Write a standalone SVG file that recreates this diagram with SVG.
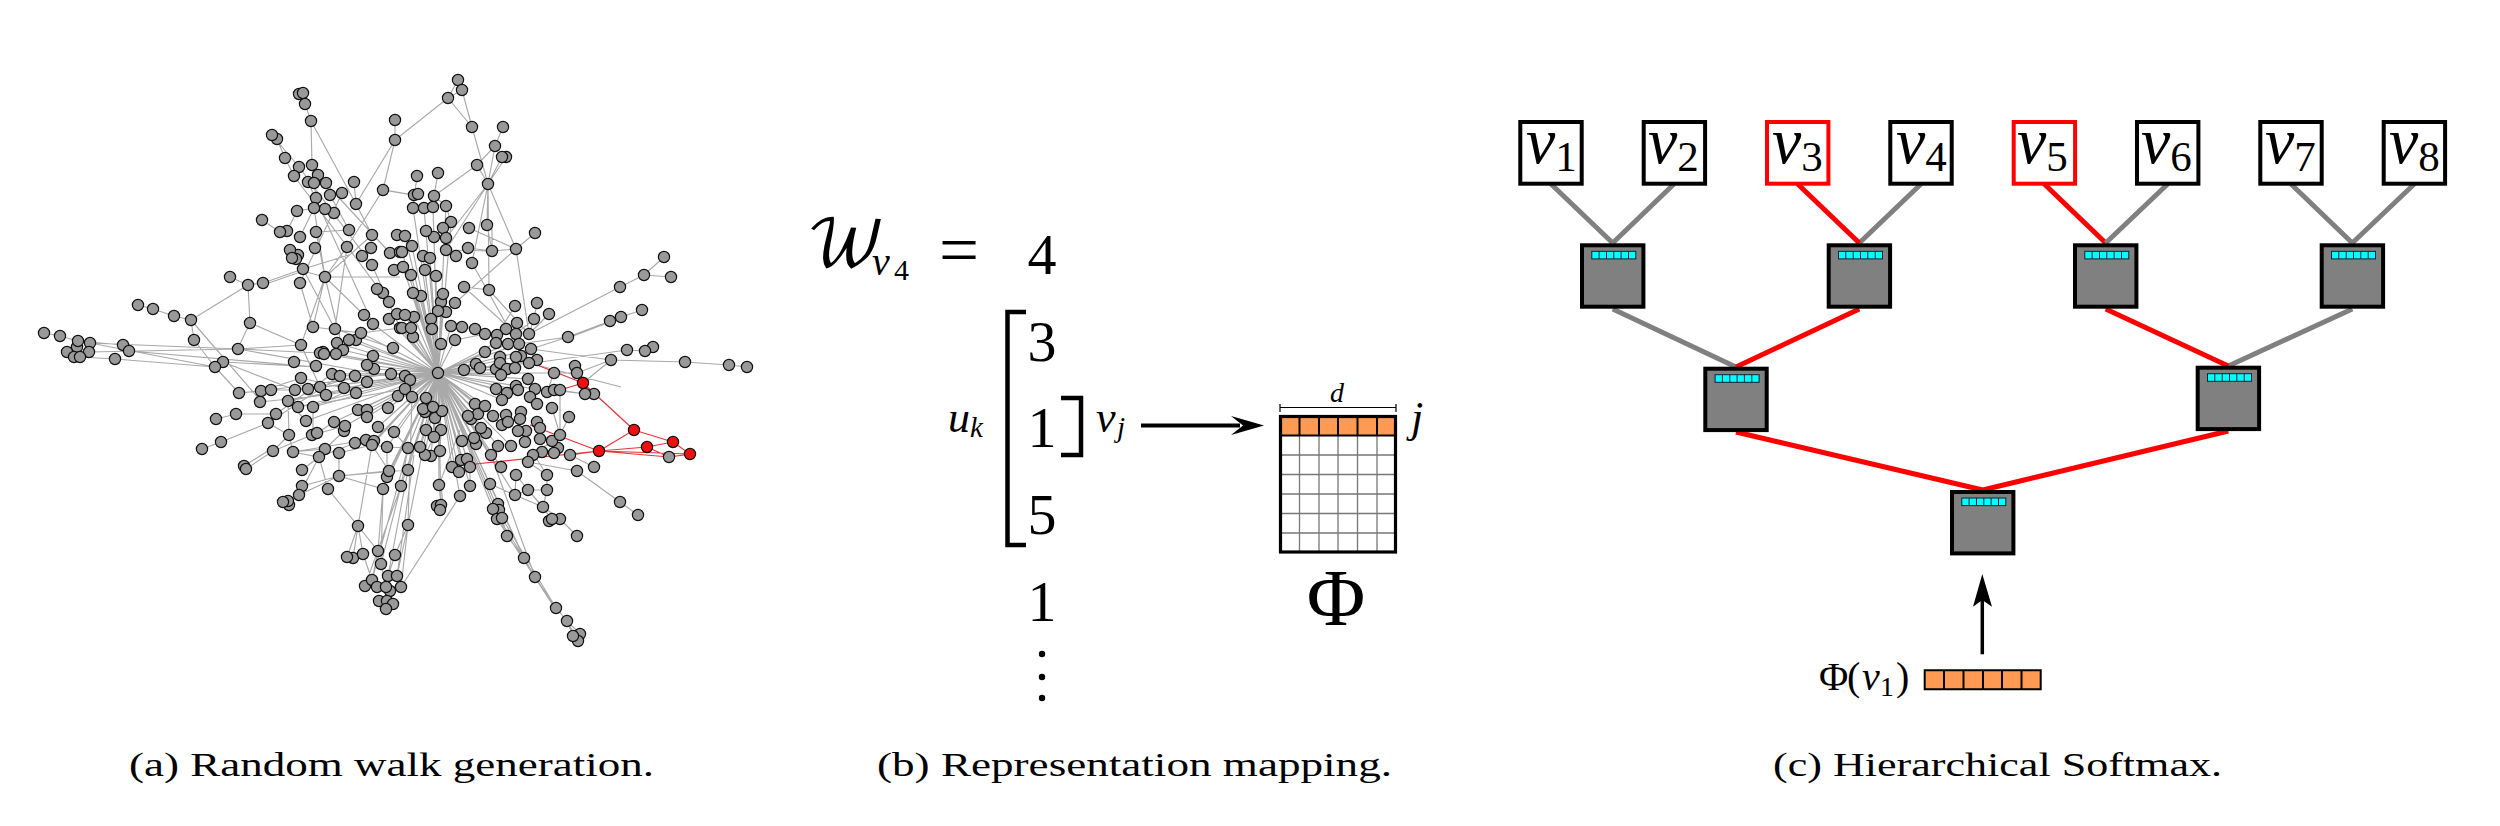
<svg xmlns="http://www.w3.org/2000/svg" width="2500" height="826" viewBox="0 0 2500 826">
<style>
text{font-family:"Liberation Serif","DejaVu Serif",serif;fill:#000}
.i{font-style:italic}
.cap{font-size:33px}
.d{font-size:58px;text-anchor:middle}
.e{fill:none;stroke:#a9a9a9;stroke-width:1.15}
.re{fill:none;stroke:#e8343a;stroke-width:1.2}
#net circle{r:5.6px;fill:#999;stroke:#111;stroke-width:1.2}
#net .r circle{fill:#f01010}
.t{stroke-width:5;fill:none}
.gy{stroke:#808080}
.rd{stroke:#f00}
.leaf{fill:#fff;stroke:#000;stroke-width:4}
.leaf.red{stroke:#f00}
.lab{font-size:66px;font-style:italic}
.sub{font-size:43px;font-style:normal}
.grid{stroke:#777;stroke-width:1.3;fill:none}
.or{fill:#ff9a55}
.blk{fill:none;stroke:#000}
</style>
<defs>
<g id="inner"><rect x="2" y="2" width="61.4" height="61.4" fill="#808080" stroke="#000" stroke-width="4"/><rect x="11.8" y="8" width="44" height="7.6" fill="#0ff" stroke="#123" stroke-width="1"/><path d="M19.1 8V15.6M26.5 8V15.6M33.8 8V15.6M41.1 8V15.6M48.5 8V15.6" stroke="#123" stroke-width="1"/></g>
</defs>
<g id="connectors">
<path id="hub-edges" class="e" d="M438 373L426 398L438 373L423 409L438 373L433 407L438 373L442 411L438 373L435 418L438 373L425 412L438 373L412 397L438 373L405 389L438 373L398 396L438 373L388 408L438 373L358 410L438 373L367 410L438 373L367 417L438 373L344 388L438 373L356 393L438 373L334 422L438 373L345 426L438 373L313 407L438 373L306 421L438 373L378 427L438 373L394 432L438 373L408 448L438 373L420 447L438 373L425 455L438 373L431 456L438 373L440 451L438 373L408 470L438 373L452 467L438 373L459 472L438 373L461 460L438 373L467 459L438 373L470 467L438 373L491 455L438 373L498 446L438 373L511 446L438 373L501 467L438 373L490 484L438 373L515 495L438 373L389 471L438 373L387 477L438 373L387 447L438 373L372 445L438 373L374 441L438 373L408 525L438 373L439 485L438 373L441 505L438 373L470 486L438 373L460 496L438 373L493 509L438 373L497 519L438 373L502 518L438 373L507 536L438 373L524 558L438 373L401 486L438 373L383 489L438 373L413 208L438 373L424 208L438 373L433 207L438 373L446 206L438 373L451 222L438 373L434 237L438 373L405 236L438 373L412 246L438 373L402 252L438 373L423 256L438 373L430 258L438 373L403 267L438 373L425 270L438 373L411 275L438 373L436 276L438 373L413 293L438 373L421 296L438 373L443 294L438 373L441 302L438 373L405 315L438 373L414 317L438 373L431 319L438 373L402 328L438 373L411 328L438 373L432 329L438 373L413 337L438 373L451 326L438 373L441 344L438 373L455 340L438 373L400 328L438 373L389 319L438 373L373 324L438 373L361 333L438 373L349 340L438 373L337 343L438 373L323 352L438 373L356 340L438 373L343 350L438 373L324 354L438 373L336 354L438 373L367 365L438 373L374 369L438 373L332 374L438 373L340 376L438 373L355 376L438 373L367 382L438 373L391 374L438 373L405 376L438 373L410 380L438 373L464 370L438 373L476 364L438 373L485 352L438 373L496 343L438 373L508 344L438 373L519 344L438 373L531 349L438 373L500 357L438 373L516 357L438 373L529 363L438 373L537 360L438 373L496 369L438 373L507 369L438 373L515 368L438 373L501 375L438 373L554 373L438 373L528 379L438 373L535 389L438 373L518 390L438 373L496 389L438 373L507 393L438 373L502 400L438 373L475 404L438 373L485 406L438 373L471 419L438 373L478 414L438 373L493 416L438 373L481 428L438 373L474 438L438 373L476 444L438 373L462 441L438 373L441 430L438 373L426 431L438 373L434 437L438 373L320 387L438 373L308 389L438 373L295 390L438 373L288 401L438 373L298 407"/>
<path id="net-edges" class="e" d="M303 93L305 104L311 121L312 165M311 121L356 204M354 182L356 204M395 120L395 140L356 204M395 140L383 190L347 247M383 190L412 195M356 204L372 235M272 135L299 167L372 265L400 328M277 139L285 158L294 176L389 302M312 165L316 198M318 175L390 253M308 182L373 324M262 220L280 232M297 211L287 231M297 211L314 208L300 237M314 208L325 277M316 232L325 277L400 277M325 277L347 247L335 329M325 277L372 235M330 195L349 230L316 232M342 193L300 283M248 285L230 277M248 285L263 283L303 269L349 255M263 285L303 271L325 277M248 285L191 320M248 285L250 323L238 348M250 323L301 345M300 283L313 327L325 277L301 345M303 269L335 329M325 277L364 315M325 277L343 350M191 320L174 316L153 309L138 305M191 320L194 340M191 320L260 400M194 340L215 367M44 333L60 336L78 341M90 343L238 349M89 352L238 349L301 345M78 341L123 345M129 351L316 367M80 357L115 359L215 367M90 343L215 367M238 349L320 353M223 362L316 367M223 362L295 390M215 367L239 393M301 345L320 387L355 376M313 327L361 333L400 328M335 329L393 348M238 349L400 378M301 378L261 391M301 378L344 388M239 393L271 390L295 390M260 402L326 395L410 380M261 391L391 374M288 401L405 376M298 407L405 389M313 407L367 382M276 414L332 374M268 423L340 376M276 414L236 414L216 419M268 423L221 442L202 449M306 421L288 401M313 407L313 435M334 422L317 433M288 401L289 435L268 423M289 435L293 452L325 449L319 457L293 452M273 451L289 435M273 451L312 435M246 469L273 451M244 466L271 449M319 457L302 470M319 457L328 489L358 526L372 445M319 457L299 495L339 476L302 486M299 495L288 501M339 476L339 453M339 476L408 470M339 476L387 471M339 476L383 489L381 564M358 526L347 557M358 526L353 558M358 526L363 554M358 526L378 551L372 580M363 554L372 580M383 489L378 551M401 486L381 564M401 486L365 586M408 448L372 580M408 470L388 576M414 455L397 576M408 525L395 555L388 576M408 525L397 576M408 525L412 397M408 525L401 587L460 496M381 564L386 587M372 580L377 587M401 587L386 587M460 430L439 485L441 505M441 485L443 505M470 486L470 467M355 443L319 457M372 445L387 447L408 448L420 447M339 453L372 445M293 452L366 440M312 435L345 426L334 422M372 445L389 471M387 447L387 477M408 448L401 486M378 427L394 432M344 431L325 449M394 432L408 448M426 430L420 447M441 430L440 451M434 437L425 455M458 80L448 98L462 90L458 80M462 90L472 127L448 98M448 98L395 140M472 127L488 184M503 127L495 146L477 165M495 146L488 184M502 157L488 184M506 157L488 184M477 165L488 184M477 165L434 196M488 184L487 225M488 184L489 290M488 184L516 249M488 184L446 250M488 184L472 263M488 184L446 238M417 176L413 208M438 173L434 196L433 207M414 195L385 190M446 206L451 222M446 206L434 196M535 233L516 249L492 251L468 248M516 249L469 228M516 249L455 303M516 249L529 334M492 251L446 250M492 225L492 251M489 290L464 287M489 290L529 334M487 225L492 251M472 263L515 340M464 287L516 334M451 222L443 228M443 228L434 237M620 287L529 334M620 287L644 275L664 257M644 275L671 277M568 337L610 321L621 317L642 310M568 338L610 322M568 337L531 349M568 337L519 344M515 306L497 335M537 303L534 319L516 334M549 314L529 334M534 319L529 334M517 323L516 334M475 329L462 327L451 326M475 329L485 334L497 335L506 329M455 340L485 334M627 350L645 351L653 347M627 350L533 363M611 360L685 362L729 365L747 367M611 360L577 373L554 373M611 360L583 383M560 390L585 394L594 394M560 391L594 395M560 390L560 435M560 390L547 392L554 373M529 363L621 387M531 349L611 360M569 417L560 435M552 408L560 435M540 439L560 435L533 455M577 471L620 502L638 515M570 455L594 467M577 471L528 462M547 475L547 490L528 490L515 495L490 484M547 475L528 462M515 495L543 507L560 519L577 536M528 490L543 507M547 490L543 507M498 504L507 536L524 558L535 577L556 608L567 621L573 636M490 484L524 558M493 509L524 558M491 455L535 577M502 518L556 608M497 519L556 610M567 621L580 634M567 621L578 641M516 475L552 519M515 495L516 475M534 455L547 475"/>
<path id="red-edges" class="re" d="M583 383L634 430L599 451L647 447L673 442L634 430M673 442L690 454L669 457L599 451M647 447L669 457M599 451L690 454M583 383L537 365M583 383L560 390M599 451L530 425M599 451L466 465M599 451L570 455"/>
<g id="tree-edges" class="t">
<path class="gy" d="M1551 184L1612.700 243M1674 184L1612.700 243M1921 184L1859.300 243"/>
<path class="rd" d="M1797.700 184L1859.300 243"/>
<path class="rd" d="M2044.300 184L2105.700 243"/>
<path class="gy" d="M2167.700 184L2105.700 243M2291 184L2352.300 243M2414.300 184L2352.300 243M1612.700 309L1736 367M2352.300 309L2228.300 366"/>
<path class="rd" d="M1859.300 309L1736 367M2105.700 309L2228.300 366M1736 432L1982.700 490M2228.300 431L1982.700 490"/>
</g>
<g id="arrows">
<path d="M1141 425.500H1240" stroke="#000" stroke-width="4"/>
<path d="M1264 425.500L1231 416L1243 425.500L1231 435Z"/>
<path d="M1982.300 654.300V600" stroke="#000" stroke-width="3.500"/>
<path d="M1982.300 574L1973 606.700L1982.300 600L1992 606.700Z"/>
</g>
</g>
<g id="net">
<g id="n1"><circle cx="299" cy="94"/></g><g id="n2"><circle cx="303" cy="93"/></g><g id="n3"><circle cx="305" cy="104"/></g><g id="n4"><circle cx="311" cy="121"/></g><g id="n5"><circle cx="277" cy="139"/></g><g id="n6"><circle cx="272" cy="135"/></g><g id="n7"><circle cx="285" cy="158"/></g><g id="n8"><circle cx="299" cy="167"/></g><g id="n9"><circle cx="312" cy="165"/></g><g id="n10"><circle cx="294" cy="176"/></g><g id="n11"><circle cx="318" cy="175"/></g><g id="n12"><circle cx="308" cy="182"/></g><g id="n13"><circle cx="326" cy="183"/></g><g id="n14"><circle cx="314" cy="183"/></g><g id="n15"><circle cx="354" cy="182"/></g><g id="n16"><circle cx="342" cy="193"/></g><g id="n17"><circle cx="330" cy="195"/></g><g id="n18"><circle cx="316" cy="198"/></g><g id="n19"><circle cx="356" cy="204"/></g><g id="n20"><circle cx="383" cy="190"/></g><g id="n21"><circle cx="395" cy="120"/></g><g id="n22"><circle cx="395" cy="140"/></g><g id="n23"><circle cx="297" cy="211"/></g><g id="n24"><circle cx="334" cy="213"/></g><g id="n25"><circle cx="325" cy="209"/></g><g id="n26"><circle cx="314" cy="208"/></g><g id="n27"><circle cx="262" cy="220"/></g><g id="n28"><circle cx="287" cy="231"/></g><g id="n29"><circle cx="280" cy="232"/></g><g id="n30"><circle cx="300" cy="237"/></g><g id="n31"><circle cx="316" cy="232"/></g><g id="n32"><circle cx="349" cy="230"/></g><g id="n33"><circle cx="372" cy="235"/></g><g id="n34"><circle cx="397" cy="235"/></g><g id="n35"><circle cx="315" cy="248"/></g><g id="n36"><circle cx="347" cy="247"/></g><g id="n37"><circle cx="371" cy="248"/></g><g id="n38"><circle cx="390" cy="253"/></g><g id="n39"><circle cx="400" cy="252"/></g><g id="n40"><circle cx="298" cy="255"/></g><g id="n41"><circle cx="290" cy="250"/></g><g id="n42"><circle cx="296" cy="259"/></g><g id="n43"><circle cx="292" cy="258"/></g><g id="n44"><circle cx="362" cy="256"/></g><g id="n45"><circle cx="372" cy="265"/></g><g id="n46"><circle cx="394" cy="270"/></g><g id="n47"><circle cx="303" cy="269"/></g><g id="n48"><circle cx="325" cy="277"/></g><g id="n49"><circle cx="230" cy="277"/></g><g id="n50"><circle cx="248" cy="285"/></g><g id="n51"><circle cx="263" cy="283"/></g><g id="n52"><circle cx="300" cy="283"/></g><g id="n53"><circle cx="383" cy="293"/></g><g id="n54"><circle cx="377" cy="289"/></g><g id="n55"><circle cx="389" cy="302"/></g><g id="n56"><circle cx="138" cy="305"/></g><g id="n57"><circle cx="153" cy="309"/></g><g id="n58"><circle cx="174" cy="316"/></g><g id="n59"><circle cx="191" cy="320"/></g><g id="n60"><circle cx="250" cy="323"/></g><g id="n61"><circle cx="364" cy="315"/></g><g id="n62"><circle cx="373" cy="324"/></g><g id="n63"><circle cx="389" cy="319"/></g><g id="n64"><circle cx="397" cy="314"/></g><g id="n65"><circle cx="400" cy="328"/></g><g id="n66"><circle cx="313" cy="327"/></g><g id="n67"><circle cx="335" cy="329"/></g><g id="n68"><circle cx="194" cy="340"/></g><g id="n69"><circle cx="44" cy="333"/></g><g id="n70"><circle cx="60" cy="336"/></g><g id="n71"><circle cx="77" cy="347"/></g><g id="n72"><circle cx="78" cy="341"/></g><g id="n73"><circle cx="90" cy="343"/></g><g id="n74"><circle cx="67" cy="352"/></g><g id="n75"><circle cx="89" cy="352"/></g><g id="n76"><circle cx="74" cy="357"/></g><g id="n77"><circle cx="80" cy="357"/></g><g id="n78"><circle cx="123" cy="345"/></g><g id="n79"><circle cx="129" cy="351"/></g><g id="n80"><circle cx="115" cy="359"/></g><g id="n81"><circle cx="238" cy="349"/></g><g id="n82"><circle cx="301" cy="345"/></g><g id="n83"><circle cx="356" cy="340"/></g><g id="n84"><circle cx="361" cy="333"/></g><g id="n85"><circle cx="349" cy="340"/></g><g id="n86"><circle cx="337" cy="343"/></g><g id="n87"><circle cx="393" cy="348"/></g><g id="n88"><circle cx="323" cy="352"/></g><g id="n89"><circle cx="343" cy="350"/></g><g id="n90"><circle cx="223" cy="362"/></g><g id="n91"><circle cx="215" cy="367"/></g><g id="n92"><circle cx="294" cy="362"/></g><g id="n93"><circle cx="316" cy="366"/></g><g id="n94"><circle cx="320" cy="353"/></g><g id="n95"><circle cx="301" cy="378"/></g><g id="n96"><circle cx="324" cy="354"/></g><g id="n97"><circle cx="336" cy="354"/></g><g id="n98"><circle cx="373" cy="356"/></g><g id="n99"><circle cx="374" cy="369"/></g><g id="n100"><circle cx="367" cy="365"/></g><g id="n101"><circle cx="332" cy="374"/></g><g id="n102"><circle cx="340" cy="376"/></g><g id="n103"><circle cx="355" cy="376"/></g><g id="n104"><circle cx="367" cy="382"/></g><g id="n105"><circle cx="391" cy="374"/></g><g id="n106"><circle cx="405" cy="376"/></g><g id="n107"><circle cx="410" cy="380"/></g><g id="n108"><circle cx="239" cy="393"/></g><g id="n109"><circle cx="261" cy="391"/></g><g id="n110"><circle cx="271" cy="390"/></g><g id="n111"><circle cx="260" cy="402"/></g><g id="n112"><circle cx="295" cy="390"/></g><g id="n113"><circle cx="308" cy="389"/></g><g id="n114"><circle cx="320" cy="387"/></g><g id="n115"><circle cx="326" cy="395"/></g><g id="n116"><circle cx="344" cy="388"/></g><g id="n117"><circle cx="356" cy="393"/></g><g id="n118"><circle cx="288" cy="401"/></g><g id="n119"><circle cx="298" cy="407"/></g><g id="n120"><circle cx="313" cy="407"/></g><g id="n121"><circle cx="276" cy="414"/></g><g id="n122"><circle cx="236" cy="414"/></g><g id="n123"><circle cx="216" cy="419"/></g><g id="n124"><circle cx="268" cy="423"/></g><g id="n125"><circle cx="306" cy="421"/></g><g id="n126"><circle cx="334" cy="422"/></g><g id="n127"><circle cx="358" cy="410"/></g><g id="n128"><circle cx="367" cy="410"/></g><g id="n129"><circle cx="367" cy="417"/></g><g id="n130"><circle cx="388" cy="408"/></g><g id="n131"><circle cx="398" cy="396"/></g><g id="n132"><circle cx="405" cy="389"/></g><g id="n133"><circle cx="412" cy="397"/></g><g id="n134"><circle cx="344" cy="431"/></g><g id="n135"><circle cx="345" cy="426"/></g><g id="n136"><circle cx="378" cy="427"/></g><g id="n137"><circle cx="394" cy="432"/></g><g id="n138"><circle cx="289" cy="435"/></g><g id="n139"><circle cx="312" cy="435"/></g><g id="n140"><circle cx="317" cy="433"/></g><g id="n141"><circle cx="221" cy="442"/></g><g id="n142"><circle cx="202" cy="449"/></g><g id="n143"><circle cx="273" cy="451"/></g><g id="n144"><circle cx="293" cy="452"/></g><g id="n145"><circle cx="325" cy="449"/></g><g id="n146"><circle cx="319" cy="457"/></g><g id="n147"><circle cx="339" cy="453"/></g><g id="n148"><circle cx="355" cy="443"/></g><g id="n149"><circle cx="366" cy="440"/></g><g id="n150"><circle cx="374" cy="441"/></g><g id="n151"><circle cx="372" cy="445"/></g><g id="n152"><circle cx="387" cy="447"/></g><g id="n153"><circle cx="408" cy="448"/></g><g id="n154"><circle cx="431" cy="456"/></g><g id="n155"><circle cx="425" cy="455"/></g><g id="n156"><circle cx="420" cy="447"/></g><g id="n157"><circle cx="440" cy="451"/></g><g id="n158"><circle cx="244" cy="466"/></g><g id="n159"><circle cx="246" cy="469"/></g><g id="n160"><circle cx="302" cy="470"/></g><g id="n161"><circle cx="339" cy="476"/></g><g id="n162"><circle cx="387" cy="477"/></g><g id="n163"><circle cx="389" cy="471"/></g><g id="n164"><circle cx="408" cy="470"/></g><g id="n165"><circle cx="401" cy="486"/></g><g id="n166"><circle cx="383" cy="489"/></g><g id="n167"><circle cx="328" cy="489"/></g><g id="n168"><circle cx="302" cy="486"/></g><g id="n169"><circle cx="299" cy="495"/></g><g id="n170"><circle cx="289" cy="505"/></g><g id="n171"><circle cx="288" cy="501"/></g><g id="n172"><circle cx="283" cy="502"/></g><g id="n173"><circle cx="358" cy="526"/></g><g id="n174"><circle cx="408" cy="525"/></g><g id="n175"><circle cx="353" cy="558"/></g><g id="n176"><circle cx="347" cy="557"/></g><g id="n177"><circle cx="363" cy="554"/></g><g id="n178"><circle cx="378" cy="551"/></g><g id="n179"><circle cx="395" cy="555"/></g><g id="n180"><circle cx="381" cy="564"/></g><g id="n181"><circle cx="388" cy="576"/></g><g id="n182"><circle cx="397" cy="576"/></g><g id="n183"><circle cx="365" cy="586"/></g><g id="n184"><circle cx="372" cy="580"/></g><g id="n185"><circle cx="390" cy="591"/></g><g id="n186"><circle cx="377" cy="587"/></g><g id="n187"><circle cx="386" cy="587"/></g><g id="n188"><circle cx="401" cy="587"/></g><g id="n189"><circle cx="379" cy="601"/></g><g id="n190"><circle cx="387" cy="601"/></g><g id="n191"><circle cx="393" cy="604"/></g><g id="n192"><circle cx="386" cy="609"/></g><g id="n193"><circle cx="438" cy="373"/></g><g id="n194"><circle cx="426" cy="398"/></g><g id="n195"><circle cx="425" cy="412"/></g><g id="n196"><circle cx="423" cy="409"/></g><g id="n197"><circle cx="435" cy="418"/></g><g id="n198"><circle cx="442" cy="411"/></g><g id="n199"><circle cx="433" cy="407"/></g><g id="n200"><circle cx="426" cy="430"/></g><g id="n201"><circle cx="441" cy="430"/></g><g id="n202"><circle cx="434" cy="437"/></g><g id="n203"><circle cx="439" cy="485"/></g><g id="n204"><circle cx="437" cy="506"/></g><g id="n205"><circle cx="441" cy="505"/></g><g id="n206"><circle cx="440" cy="510"/></g><g id="n207"><circle cx="452" cy="467"/></g><g id="n208"><circle cx="461" cy="460"/></g><g id="n209"><circle cx="467" cy="459"/></g><g id="n210"><circle cx="470" cy="467"/></g><g id="n211"><circle cx="459" cy="472"/></g><g id="n212"><circle cx="460" cy="496"/></g><g id="n213"><circle cx="470" cy="486"/></g><g id="n214"><circle cx="462" cy="441"/></g><g id="n215"><circle cx="458" cy="80"/></g><g id="n216"><circle cx="462" cy="90"/></g><g id="n217"><circle cx="448" cy="98"/></g><g id="n218"><circle cx="472" cy="127"/></g><g id="n219"><circle cx="503" cy="127"/></g><g id="n220"><circle cx="495" cy="146"/></g><g id="n221"><circle cx="506" cy="157"/></g><g id="n222"><circle cx="502" cy="157"/></g><g id="n223"><circle cx="477" cy="165"/></g><g id="n224"><circle cx="488" cy="184"/></g><g id="n225"><circle cx="417" cy="176"/></g><g id="n226"><circle cx="438" cy="173"/></g><g id="n227"><circle cx="414" cy="195"/></g><g id="n228"><circle cx="418" cy="194"/></g><g id="n229"><circle cx="434" cy="196"/></g><g id="n230"><circle cx="413" cy="208"/></g><g id="n231"><circle cx="424" cy="208"/></g><g id="n232"><circle cx="433" cy="207"/></g><g id="n233"><circle cx="446" cy="206"/></g><g id="n234"><circle cx="451" cy="222"/></g><g id="n235"><circle cx="469" cy="228"/></g><g id="n236"><circle cx="487" cy="225"/></g><g id="n237"><circle cx="535" cy="233"/></g><g id="n238"><circle cx="516" cy="249"/></g><g id="n239"><circle cx="492" cy="251"/></g><g id="n240"><circle cx="468" cy="248"/></g><g id="n241"><circle cx="443" cy="228"/></g><g id="n242"><circle cx="446" cy="238"/></g><g id="n243"><circle cx="434" cy="237"/></g><g id="n244"><circle cx="426" cy="231"/></g><g id="n245"><circle cx="405" cy="236"/></g><g id="n246"><circle cx="412" cy="246"/></g><g id="n247"><circle cx="402" cy="252"/></g><g id="n248"><circle cx="446" cy="250"/></g><g id="n249"><circle cx="456" cy="256"/></g><g id="n250"><circle cx="423" cy="256"/></g><g id="n251"><circle cx="430" cy="258"/></g><g id="n252"><circle cx="472" cy="263"/></g><g id="n253"><circle cx="403" cy="267"/></g><g id="n254"><circle cx="425" cy="270"/></g><g id="n255"><circle cx="411" cy="275"/></g><g id="n256"><circle cx="436" cy="276"/></g><g id="n257"><circle cx="464" cy="287"/></g><g id="n258"><circle cx="489" cy="290"/></g><g id="n259"><circle cx="421" cy="296"/></g><g id="n260"><circle cx="413" cy="293"/></g><g id="n261"><circle cx="441" cy="302"/></g><g id="n262"><circle cx="443" cy="294"/></g><g id="n263"><circle cx="455" cy="303"/></g><g id="n264"><circle cx="446" cy="312"/></g><g id="n265"><circle cx="438" cy="311"/></g><g id="n266"><circle cx="414" cy="317"/></g><g id="n267"><circle cx="405" cy="315"/></g><g id="n268"><circle cx="431" cy="319"/></g><g id="n269"><circle cx="402" cy="328"/></g><g id="n270"><circle cx="413" cy="337"/></g><g id="n271"><circle cx="411" cy="328"/></g><g id="n272"><circle cx="432" cy="329"/></g><g id="n273"><circle cx="451" cy="326"/></g><g id="n274"><circle cx="462" cy="327"/></g><g id="n275"><circle cx="475" cy="329"/></g><g id="n276"><circle cx="485" cy="334"/></g><g id="n277"><circle cx="506" cy="329"/></g><g id="n278"><circle cx="497" cy="335"/></g><g id="n279"><circle cx="515" cy="306"/></g><g id="n280"><circle cx="537" cy="303"/></g><g id="n281"><circle cx="549" cy="314"/></g><g id="n282"><circle cx="534" cy="319"/></g><g id="n283"><circle cx="517" cy="323"/></g><g id="n284"><circle cx="516" cy="334"/></g><g id="n285"><circle cx="529" cy="334"/></g><g id="n286"><circle cx="496" cy="343"/></g><g id="n287"><circle cx="508" cy="344"/></g><g id="n288"><circle cx="519" cy="344"/></g><g id="n289"><circle cx="531" cy="349"/></g><g id="n290"><circle cx="485" cy="352"/></g><g id="n291"><circle cx="455" cy="340"/></g><g id="n292"><circle cx="441" cy="344"/></g><g id="n293"><circle cx="568" cy="337"/></g><g id="n294"><circle cx="610" cy="321"/></g><g id="n295"><circle cx="621" cy="317"/></g><g id="n296"><circle cx="642" cy="310"/></g><g id="n297"><circle cx="620" cy="287"/></g><g id="n298"><circle cx="644" cy="275"/></g><g id="n299"><circle cx="664" cy="257"/></g><g id="n300"><circle cx="671" cy="277"/></g><g id="n301"><circle cx="627" cy="350"/></g><g id="n302"><circle cx="653" cy="347"/></g><g id="n303"><circle cx="645" cy="351"/></g><g id="n304"><circle cx="611" cy="360"/></g><g id="n305"><circle cx="685" cy="362"/></g><g id="n306"><circle cx="729" cy="365"/></g><g id="n307"><circle cx="747" cy="367"/></g><g id="n308"><circle cx="476" cy="364"/></g><g id="n309"><circle cx="480" cy="368"/></g><g id="n310"><circle cx="464" cy="370"/></g><g id="n311"><circle cx="496" cy="369"/></g><g id="n312"><circle cx="496" cy="389"/></g><g id="n313"><circle cx="521" cy="356"/></g><g id="n314"><circle cx="516" cy="357"/></g><g id="n315"><circle cx="500" cy="357"/></g><g id="n316"><circle cx="500" cy="363"/></g><g id="n317"><circle cx="537" cy="360"/></g><g id="n318"><circle cx="529" cy="363"/></g><g id="n319"><circle cx="507" cy="369"/></g><g id="n320"><circle cx="515" cy="368"/></g><g id="n321"><circle cx="501" cy="375"/></g><g id="n322"><circle cx="575" cy="366"/></g><g id="n323"><circle cx="577" cy="373"/></g><g id="n324"><circle cx="554" cy="373"/></g><g id="n325"><circle cx="594" cy="394"/></g><g id="n326"><circle cx="585" cy="394"/></g><g id="n327"><circle cx="547" cy="392"/></g><g id="n328"><circle cx="554" cy="390"/></g><g id="n329"><circle cx="560" cy="390"/></g><g id="n330"><circle cx="535" cy="389"/></g><g id="n331"><circle cx="528" cy="379"/></g><g id="n332"><circle cx="516" cy="386"/></g><g id="n333"><circle cx="518" cy="390"/></g><g id="n334"><circle cx="507" cy="393"/></g><g id="n335"><circle cx="502" cy="400"/></g><g id="n336"><circle cx="530" cy="397"/></g><g id="n337"><circle cx="537" cy="404"/></g><g id="n338"><circle cx="552" cy="408"/></g><g id="n339"><circle cx="569" cy="417"/></g><g id="n340"><circle cx="521" cy="412"/></g><g id="n341"><circle cx="520" cy="419"/></g><g id="n342"><circle cx="506" cy="415"/></g><g id="n343"><circle cx="502" cy="425"/></g><g id="n344"><circle cx="508" cy="422"/></g><g id="n345"><circle cx="475" cy="404"/></g><g id="n346"><circle cx="471" cy="419"/></g><g id="n347"><circle cx="478" cy="414"/></g><g id="n348"><circle cx="485" cy="406"/></g><g id="n349"><circle cx="468" cy="416"/></g><g id="n350"><circle cx="493" cy="416"/></g><g id="n351"><circle cx="486" cy="433"/></g><g id="n352"><circle cx="481" cy="428"/></g><g id="n353"><circle cx="476" cy="444"/></g><g id="n354"><circle cx="474" cy="438"/></g><g id="n355"><circle cx="526" cy="431"/></g><g id="n356"><circle cx="518" cy="431"/></g><g id="n357"><circle cx="537" cy="422"/></g><g id="n358"><circle cx="540" cy="428"/></g><g id="n359"><circle cx="540" cy="439"/></g><g id="n360"><circle cx="525" cy="442"/></g><g id="n361"><circle cx="511" cy="446"/></g><g id="n362"><circle cx="498" cy="446"/></g><g id="n363"><circle cx="558" cy="448"/></g><g id="n364"><circle cx="552" cy="441"/></g><g id="n365"><circle cx="560" cy="435"/></g><g id="n366"><circle cx="542" cy="452"/></g><g id="n367"><circle cx="554" cy="453"/></g><g id="n368"><circle cx="533" cy="455"/></g><g id="n369"><circle cx="528" cy="462"/></g><g id="n370"><circle cx="570" cy="455"/></g><g id="n371"><circle cx="577" cy="471"/></g><g id="n372"><circle cx="594" cy="467"/></g><g id="n373"><circle cx="501" cy="467"/></g><g id="n374"><circle cx="491" cy="455"/></g><g id="n375"><circle cx="516" cy="475"/></g><g id="n376"><circle cx="547" cy="475"/></g><g id="n377"><circle cx="547" cy="490"/></g><g id="n378"><circle cx="528" cy="490"/></g><g id="n379"><circle cx="515" cy="495"/></g><g id="n380"><circle cx="490" cy="484"/></g><g id="n381"><circle cx="543" cy="507"/></g><g id="n382"><circle cx="560" cy="519"/></g><g id="n383"><circle cx="549" cy="521"/></g><g id="n384"><circle cx="552" cy="519"/></g><g id="n385"><circle cx="577" cy="536"/></g><g id="n386"><circle cx="498" cy="504"/></g><g id="n387"><circle cx="499" cy="510"/></g><g id="n388"><circle cx="493" cy="509"/></g><g id="n389"><circle cx="497" cy="519"/></g><g id="n390"><circle cx="502" cy="518"/></g><g id="n391"><circle cx="507" cy="536"/></g><g id="n392"><circle cx="524" cy="558"/></g><g id="n393"><circle cx="535" cy="577"/></g><g id="n394"><circle cx="556" cy="608"/></g><g id="n395"><circle cx="567" cy="621"/></g><g id="n396"><circle cx="580" cy="634"/></g><g id="n397"><circle cx="578" cy="641"/></g><g id="n398"><circle cx="573" cy="636"/></g><g id="n399"><circle cx="620" cy="502"/></g><g id="n400"><circle cx="638" cy="515"/></g><g id="n401"><circle cx="669" cy="457"/></g>
<g id="r1" class="r"><circle cx="583" cy="383"/></g><g id="r2" class="r"><circle cx="634" cy="430"/></g><g id="r3" class="r"><circle cx="599" cy="451"/></g><g id="r4" class="r"><circle cx="647" cy="447"/></g><g id="r5" class="r"><circle cx="673" cy="442"/></g><g id="r6" class="r"><circle cx="690" cy="454"/></g>
</g>
<g id="walk">
<text x="806" y="266" font-size="64" font-family="DejaVu Math TeX Gyre" style="font-family:'DejaVu Math TeX Gyre','Liberation Serif',serif">𝒲</text>
<text x="872" y="275" font-size="40" class="i">v<tspan x="894" y="280" font-size="30" style="font-style:normal">4</tspan></text>
<text x="959" y="274" font-size="71" text-anchor="middle">=</text>
<text x="1042" y="274" class="d">4</text>
<text x="1042" y="361" class="d">3</text>
<text x="1042" y="447" class="d">1</text>
<text x="1042" y="534" class="d">5</text>
<text x="1042" y="621" class="d">1</text>
<circle cx="1042" cy="654" r="3.200"/><circle cx="1042" cy="677" r="3.200"/><circle cx="1042" cy="698" r="3.200"/>
<path class="blk" stroke-width="4.500" d="M1026 312H1007.500V545H1026"/>
<path class="blk" stroke-width="4.500" d="M1061 398H1081V455H1061"/>
<text x="948" y="432" font-size="44" class="i">u<tspan x="970" y="437" font-size="29">k</tspan></text>
<text x="1096" y="432" font-size="44" class="i">v<tspan x="1117" y="437" font-size="29">j</tspan></text>
</g>
<g id="matrix">
<rect x="1280.500" y="416.500" width="115" height="135.500" fill="#fff"/>
<rect class="or" x="1280.500" y="416.500" width="115" height="19"/>
<path class="grid" d="M1299.500 436V552M1319 436V552M1338 436V552M1357.500 436V552M1377 436V552M1280 455H1396M1280 474.500H1396M1280 494H1396M1280 513.500H1396M1280 533H1396"/>
<path class="blk" stroke-width="2" d="M1299.500 416V436M1319 416V436M1338 416V436M1357.500 416V436M1377 416V436M1280 435.500H1396"/>
<rect class="blk" stroke-width="3.200" x="1280.500" y="416.500" width="115" height="135.500"/>
<path class="blk" stroke-width="1.200" d="M1280 404V412M1280 407.500H1396M1396 404V412"/>
<text x="1330" y="402" font-size="28" class="i">d</text>
<text x="1411" y="432" font-size="44" class="i">j</text>
<text x="1336" y="625" font-size="80" text-anchor="middle">Φ</text>
</g>
<g id="leaf1"><rect class="leaf" x="1520.300" y="122" width="61.400" height="61.700"/><text class="lab" x="1526" y="163">v<tspan class="sub" dy="8">1</tspan></text></g>
<g id="leaf2"><rect class="leaf" x="1643.700" y="122" width="61.400" height="61.700"/><text class="lab" x="1648" y="163">v<tspan class="sub" dy="8">2</tspan></text></g>
<g id="leaf3"><rect class="leaf red" x="1767" y="122" width="61.400" height="61.700"/><text class="lab" x="1772" y="163">v<tspan class="sub" dy="8">3</tspan></text></g>
<g id="leaf4"><rect class="leaf" x="1890.300" y="122" width="61.400" height="61.700"/><text class="lab" x="1896" y="163">v<tspan class="sub" dy="8">4</tspan></text></g>
<g id="leaf5"><rect class="leaf red" x="2013.700" y="122" width="61.400" height="61.700"/><text class="lab" x="2017" y="163">v<tspan class="sub" dy="8">5</tspan></text></g>
<g id="leaf6"><rect class="leaf" x="2137" y="122" width="61.400" height="61.700"/><text class="lab" x="2141" y="163">v<tspan class="sub" dy="8">6</tspan></text></g>
<g id="leaf7"><rect class="leaf" x="2260.300" y="122" width="61.400" height="61.700"/><text class="lab" x="2265" y="163">v<tspan class="sub" dy="8">7</tspan></text></g>
<g id="leaf8"><rect class="leaf" x="2383.700" y="122" width="61.400" height="61.700"/><text class="lab" x="2389" y="163">v<tspan class="sub" dy="8">8</tspan></text></g>
<g id="in1"><use href="#inner" x="1580" y="243.300"/></g>
<g id="in2"><use href="#inner" x="1826.700" y="243.300"/></g>
<g id="in3"><use href="#inner" x="2073" y="243.300"/></g>
<g id="in4"><use href="#inner" x="2319.700" y="243.300"/></g>
<g id="in5"><use href="#inner" x="1703.300" y="366.700"/></g>
<g id="in6"><use href="#inner" x="2195.700" y="365.700"/></g>
<g id="in7"><use href="#inner" x="1950" y="490"/></g>
<g id="vec">
<rect class="or" x="1924.700" y="670.300" width="116" height="19"/>
<path class="blk" stroke="#222" stroke-width="2" d="M1924.700 670.300H2040.700V689.300H1924.700ZM1944 670V690M1963.500 670V690M1983 670V690M2002 670V690M2021.500 670V690"/>
<text y="690" font-size="40"><tspan x="1819">Φ</tspan><tspan x="1847">(</tspan><tspan x="1862" class="i">v</tspan><tspan x="1880" y="696" font-size="28">1</tspan><tspan x="1896" y="690">)</tspan></text>
</g>
<g id="captions">
<text class="cap" x="129" y="776" textLength="525" lengthAdjust="spacingAndGlyphs">(a) Random walk generation.</text>
<text class="cap" x="877" y="776" textLength="515" lengthAdjust="spacingAndGlyphs">(b) Representation mapping.</text>
<text class="cap" x="1773" y="776" textLength="449" lengthAdjust="spacingAndGlyphs">(c) Hierarchical Softmax.</text>
</g>
</svg>
